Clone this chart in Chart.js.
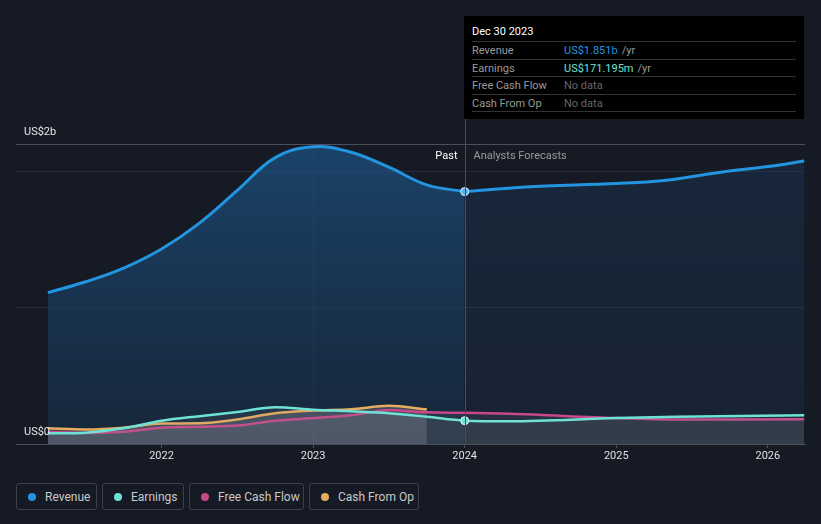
<!DOCTYPE html>
<html>
<head>
<meta charset="utf-8">
<script src="https://cdn.jsdelivr.net/npm/chart.js@4/dist/chart.umd.min.js"></script>
<style>
  body { margin: 0; background: #151a24; font-family: Roboto, "Noto Sans", sans-serif; }
  #wrap { position: relative; width: 821px; height: 524px; overflow: hidden; }
  #chart { position: absolute; left: 0; top: 0; }
  #tip { position: absolute; left: 464px; top: 16px; width: 340px; height: 103px; background: #000; box-sizing: border-box; padding: 8px 8px 0 8px; font-size: 11px; }
  #tip .hd { color: #fff; height: 17px; line-height: 15px; border-bottom: 1px solid #333; }
  #tip .row { display: flex; height: 16.5px; line-height: 17px; border-bottom: 1px solid #333; }
  #tip .lab { width: 92px; color: #9a9a9a; }
  #tip .unit { color: #9a9a9a; margin-left: 4px; }
  #legend { position: absolute; top: 483px; left: 16px; display: flex; }
  .lg { flex-shrink: 0; white-space: nowrap; height: 27px; box-sizing: border-box; border: 1px solid #3b404b; border-radius: 3px; color: #c9c9c9; font-size: 12px; display: flex; align-items: center; padding-left: 11px; margin-right: 5px; }
  .lg i { flex-shrink: 0; width: 8px; height: 8px; border-radius: 50%; display: inline-block; margin-right: 9px; }
</style>
</head>
<body>
<div id="wrap">
  <canvas id="chart" width="821" height="470"></canvas>
  <div id="tip">
    <div class="hd">Dec 30 2023</div>
    <div class="row"><span class="lab">Revenue</span><span style="color:#2394df">US$1.851b</span><span class="unit">/yr</span></div>
    <div class="row"><span class="lab">Earnings</span><span style="color:#6ee3d5">US$171.195m</span><span class="unit">/yr</span></div>
    <div class="row"><span class="lab">Free Cash Flow</span><span style="color:#666">No data</span></div>
    <div class="row"><span class="lab">Cash From Op</span><span style="color:#666">No data</span></div>
  </div>
  <div id="legend">
    <div class="lg" style="width:81px"><i style="background:#2394df"></i>Revenue</div>
    <div class="lg" style="width:82px"><i style="background:#6ee3d5"></i>Earnings</div>
    <div class="lg" style="width:115px"><i style="background:#c8488a"></i>Free Cash Flow</div>
    <div class="lg" style="width:110px"><i style="background:#e8ac5e"></i>Cash From Op</div>
  </div>
</div>
<script>
// values in US$ billions, x in decimal years
const pastYears = [2021.25, 2021.5, 2021.75, 2022, 2022.25, 2022.5, 2022.75, 2023, 2023.25, 2023.5, 2023.75, 2024];
const revenuePast = [1.11, 1.19, 1.29, 1.43, 1.62, 1.86, 2.10, 2.18, 2.14, 2.03, 1.90, 1.851];
const earningsPast = [0.078, 0.083, 0.115, 0.17, 0.204, 0.235, 0.27, 0.252, 0.24, 0.226, 0.2, 0.171];
const fcfPast = [0.09, 0.08, 0.09, 0.12, 0.127, 0.135, 0.17, 0.19, 0.21, 0.25, 0.232, 0.229];
const cfoYears = [2021.25, 2021.5, 2021.75, 2022, 2022.25, 2022.5, 2022.75, 2023, 2023.25, 2023.5, 2023.75];
const cfoPast = [0.115, 0.107, 0.12, 0.15, 0.152, 0.18, 0.225, 0.245, 0.255, 0.28, 0.254];

const revForecastYears = [2024, 2024.4, 2025, 2025.3, 2025.7, 2026, 2026.24];
const revenueForecast = [1.851, 1.885, 1.91, 1.93, 1.995, 2.035, 2.075];
const forecastYears = [2024, 2024.3, 2025, 2025.4, 2026.24];
const earningsForecast = [0.171, 0.166, 0.19, 0.2, 0.21];
const fcfForecast = [0.229, 0.222, 0.19, 0.18, 0.181];

const xTicks = [2022, 2023, 2024, 2025, 2026];
const nowYear = 2024;

function pts(xs, ys) { return xs.map((x, i) => ({ x: x, y: ys[i] })); }

const earnings = pts(pastYears, earningsPast).concat(pts(forecastYears.slice(1), earningsForecast.slice(1)));
const fcf = pts(pastYears, fcfPast).concat(pts(forecastYears.slice(1), fcfForecast.slice(1)));

function markNow() {
  return ctx => (ctx.raw && ctx.raw.x === nowYear ? 4 : 0);
}

const overlay = {
  id: 'overlay',
  beforeDatasetsDraw(chart) {
    const c = chart.ctx, xs = chart.scales.x, ys = chart.scales.y, a = chart.chartArea;
    c.save();
    // faint line at 2023 inside the past area
    c.strokeStyle = 'rgba(80,140,190,0.12)';
    c.lineWidth = 1;
    const x23 = Math.round(xs.getPixelForValue(2023)) + 0.5;
    c.beginPath(); c.moveTo(x23, ys.getPixelForValue(2.18)); c.lineTo(x23, a.bottom); c.stroke();
    c.restore();
  },
  afterDatasetsDraw(chart) {
    const c = chart.ctx, xs = chart.scales.x, ys = chart.scales.y, a = chart.chartArea;
    c.save();
    const xn = Math.round(xs.getPixelForValue(nowYear)) + 0.5;
    c.strokeStyle = '#2b5678';
    c.lineWidth = 1;
    c.beginPath(); c.moveTo(xn, 16); c.lineTo(xn, a.bottom); c.stroke();
    c.font = '11px Roboto, sans-serif';
    c.textBaseline = 'middle';
    c.fillStyle = '#ffffff';
    c.textAlign = 'right';
    c.fillText('Past', xn - 8, a.top + 12);
    c.fillStyle = '#9a9a9a';
    c.textAlign = 'left';
    c.fillText('Analysts Forecasts', xn + 8, a.top + 12);
    c.fillStyle = '#e6e6e6';
    c.fillText('US$2b', 24, ys.getPixelForValue(2.2) - 12);
    c.fillText('US$0', 24, ys.getPixelForValue(0) - 12);
    c.restore();
  }
};

const ctx = document.getElementById('chart').getContext('2d');

function revFill(past) {
  return context => {
    const a = context.chart.chartArea;
    if (!a) return 'rgba(0,0,0,0)';
    const g = context.chart.ctx.createLinearGradient(0, a.top, 0, a.bottom);
    if (past) { g.addColorStop(0, 'rgba(30,90,145,0.65)'); g.addColorStop(1, 'rgba(30,70,110,0.3)'); }
    else { g.addColorStop(0, 'rgba(30,60,95,0.4)'); g.addColorStop(1, 'rgba(30,55,85,0.3)'); }
    return g;
  };
}

new Chart(ctx, {
  type: 'line',
  data: {
    datasets: [
      {
        label: 'Revenue',
        data: pts(pastYears, revenuePast),
        borderColor: '#2394df',
        backgroundColor: revFill(true),
        fill: 'origin',
        borderWidth: 3,
        tension: 0.4,
        pointRadius: markNow(),
        pointBackgroundColor: '#5cb2ee',
        pointBorderColor: '#e8f4ff',
        pointBorderWidth: 1,
        order: 5
      },
      {
        label: 'Revenue forecast',
        data: pts(revForecastYears, revenueForecast),
        borderColor: '#2394df',
        backgroundColor: revFill(false),
        fill: 'origin',
        borderWidth: 3,
        cubicInterpolationMode: 'monotone',
        pointRadius: 0,
        order: 6
      },
      {
        label: 'Cash From Op',
        data: pts(cfoYears, cfoPast),
        borderColor: '#e8ac5e',
        backgroundColor: 'rgba(150,150,155,0.30)',
        fill: 'origin',
        borderWidth: 2.5,
        cubicInterpolationMode: 'monotone',
        pointRadius: 0,
        order: 4
      },
      {
        label: 'Free Cash Flow',
        data: fcf,
        borderColor: '#c8488a',
        backgroundColor: 'rgba(150,150,155,0.12)',
        fill: 'origin',
        borderWidth: 2.5,
        cubicInterpolationMode: 'monotone',
        pointRadius: 0,
        order: 3
      },
      {
        label: 'Earnings',
        data: earnings,
        borderColor: '#6ee3d5',
        backgroundColor: 'rgba(150,150,155,0.12)',
        fill: 'origin',
        borderWidth: 2.5,
        cubicInterpolationMode: 'monotone',
        pointRadius: markNow(),
        pointBackgroundColor: '#6ee3d5',
        pointBorderColor: '#e8fffb',
        pointBorderWidth: 1,
        order: 2
      }
    ]
  },
  options: {
    responsive: false,
    animation: false,
    layout: { padding: { left: 16, right: 16, top: 144, bottom: 0 } },
    plugins: { legend: { display: false }, tooltip: { enabled: false } },
    scales: {
      x: {
        type: 'linear',
        min: 2021.04,
        max: 2026.245,
        afterFit: s => { s.height = 26; },
        afterBuildTicks: s => { s.ticks = xTicks.map(v => ({ value: v })); },
        ticks: { color: '#e0e0e0', font: { size: 11, family: 'Roboto' }, padding: 2, callback: v => String(v), maxRotation: 0 },
        grid: { drawOnChartArea: false, drawTicks: true, tickLength: 4, color: '#4a4f5a' },
        border: { color: '#4a4f5a' }
      },
      y: {
        min: 0,
        max: 2.2,
        afterFit: s => { s.width = 0; },
        ticks: { display: false, stepSize: 1 },
        grid: { drawTicks: false, color: c => (c.tick.value === 2.2 ? '#4a4f5a' : '#262c37') },
        border: { display: false }
      }
    }
  },
  plugins: [overlay]
});
</script>
</body>
</html>
